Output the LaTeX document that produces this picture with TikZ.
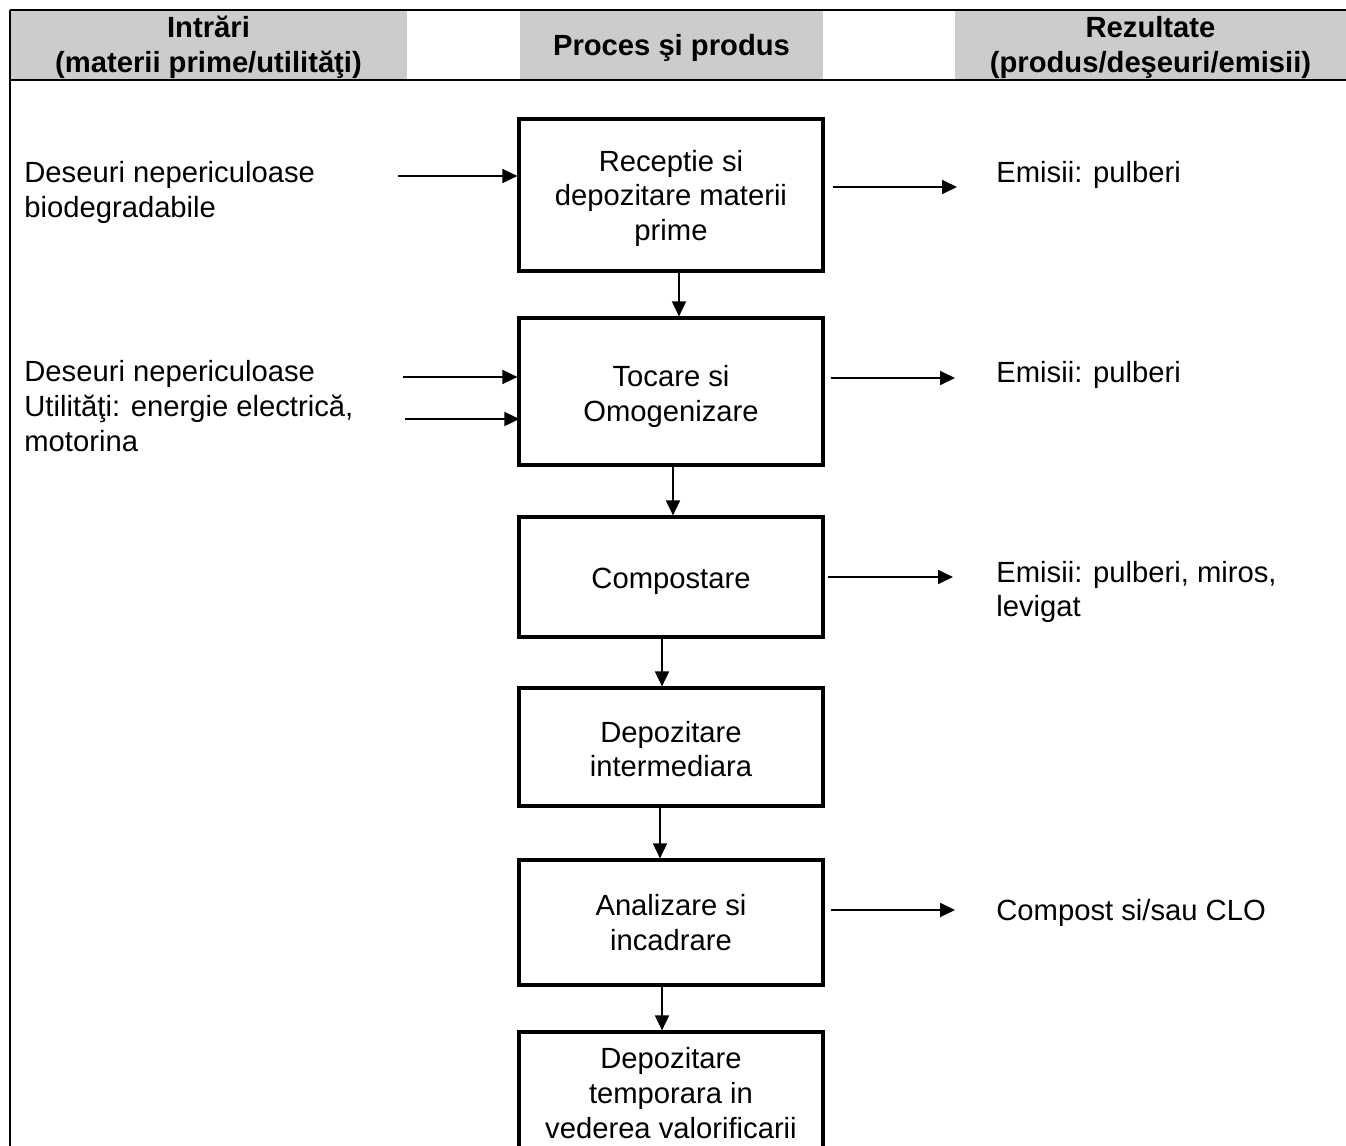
\documentclass[tikz,border=0pt]{standalone}
\usepackage{fontspec}
\setmainfont{Liberation Sans}
\usetikzlibrary{arrows.meta,calc}
\definecolor{hdrgray}{HTML}{CCCCCC}
\newcommand\txtdown[1]{\rule{0pt}{\dimexpr 10.7pt+#1pt\relax}}
\begin{document}
\begin{tikzpicture}[x=0.5pt,y=-0.5pt,
  txt/.style={inner sep=0pt, align=left, anchor=west, font=\fontsize{14.6pt}{17.3pt}\selectfont},
  box/.style={draw, line width=1.6pt, minimum width=152pt, inner sep=0pt, align=center, font=\fontsize{14.6pt}{17.3pt}\selectfont},
  hdr/.style={fill=hdrgray, inner sep=0pt, align=center, font=\fontsize{14.6pt}{17.5pt}\selectfont\bfseries, minimum height=35pt},
  rule/.style={line width=0.9pt},
  arr/.style={-{Triangle[length=7.5pt,width=7pt]}, line width=0.9pt}]
\useasboundingbox (0,0) rectangle (1346,1146);
\clip (0,0) rectangle (1346,1146);
\fill[white] (0,0) rectangle (1346,1146);
% header
\node[hdr, minimum width=198.5pt] (h1) at (208.5,45) {\txtdown{2}Intrări\\(materii prime/utilităţi)};
\node[hdr, minimum width=151.5pt] (h2) at (671.5,45) {\txtdown{3}Proces şi produs};
\node[hdr, minimum width=195.5pt] (h3) at (1150.5,45) {\txtdown{2}Rezultate\\(produs/deşeuri/emisii)};
\draw[rule] (10,10) -- (1346,10);
\draw[rule] (10,80) -- (1346,80);
\draw[rule] (10,10) -- (10,1146);
% process boxes
\node[box, minimum height=76pt] (b1) at (671,195) {\txtdown{3}Receptie si\\depozitare materii\\prime};
\node[box, minimum height=73.5pt] (b2) at (671,391.5) {\txtdown{5}Tocare si\\Omogenizare};
\node[box, minimum height=60pt] (b3) at (671,577) {\txtdown{4}Compostare};
\node[box, minimum height=59pt] (b4) at (671,747) {\txtdown{2}Depozitare\\intermediara};
\node[box, minimum height=62.5pt] (b5) at (671,922.5) {Analizare si\\incadrare};
\node[box, minimum height=61pt] (b6) at (671,1093) {Depozitare\\temporara in\\vederea valorificarii};
\draw[arr] ([xshift=4pt]b1.south) -- ([xshift=4pt]b2.north);
\draw[arr] ([xshift=1pt]b2.south) -- ([xshift=1pt]b3.north);
\draw[arr] ([xshift=-4.5pt]b3.south) -- ([xshift=-4.5pt]b4.north);
\draw[arr] ([xshift=-5.5pt]b4.south) -- ([xshift=-5.5pt]b5.north);
\draw[arr] ([xshift=-4.5pt]b5.south) -- ([xshift=-4.5pt]b6.north);
% inputs
\node[txt] (in1) at (24,192.5) {Deseuri nepericuloase\\biodegradabile};
\node[txt] (in2) at (24,406) {Deseuri nepericuloase\\Utilităţi: energie electrică,\\motorina};
\coordinate (s1) at (398,176);
\coordinate (s2) at (403,377);
\coordinate (s3) at (405,419);
\draw[arr] (s1) -- (s1 -| b1.west);
\draw[arr] (s2) -- (s2 -| b2.west);
\draw[arr] (s3) -- ([xshift=1pt]s3 -| b2.west);
% outputs
\node[txt] (o1) at (996,175) {Emisii: pulberi};
\node[txt] (o2) at (996,375) {Emisii: pulberi};
\node[txt] (o3) at (996,592) {Emisii: pulberi, miros,\\levigat};
\node[txt] (o4) at (996,913) {Compost si/sau CLO};
\coordinate (e1) at (957,187);
\coordinate (e2) at (955,378);
\coordinate (e3) at (953,577);
\coordinate (e4) at (955,910);
\draw[arr] ([xshift=4pt]b1.east |- e1) -- (e1);
\draw[arr] ([xshift=3pt]b2.east |- e2) -- (e2);
\draw[arr] ([xshift=1.5pt]b3.east |- e3) -- (e3);
\draw[arr] ([xshift=3pt]b5.east |- e4) -- (e4);
\end{tikzpicture}
\end{document}
